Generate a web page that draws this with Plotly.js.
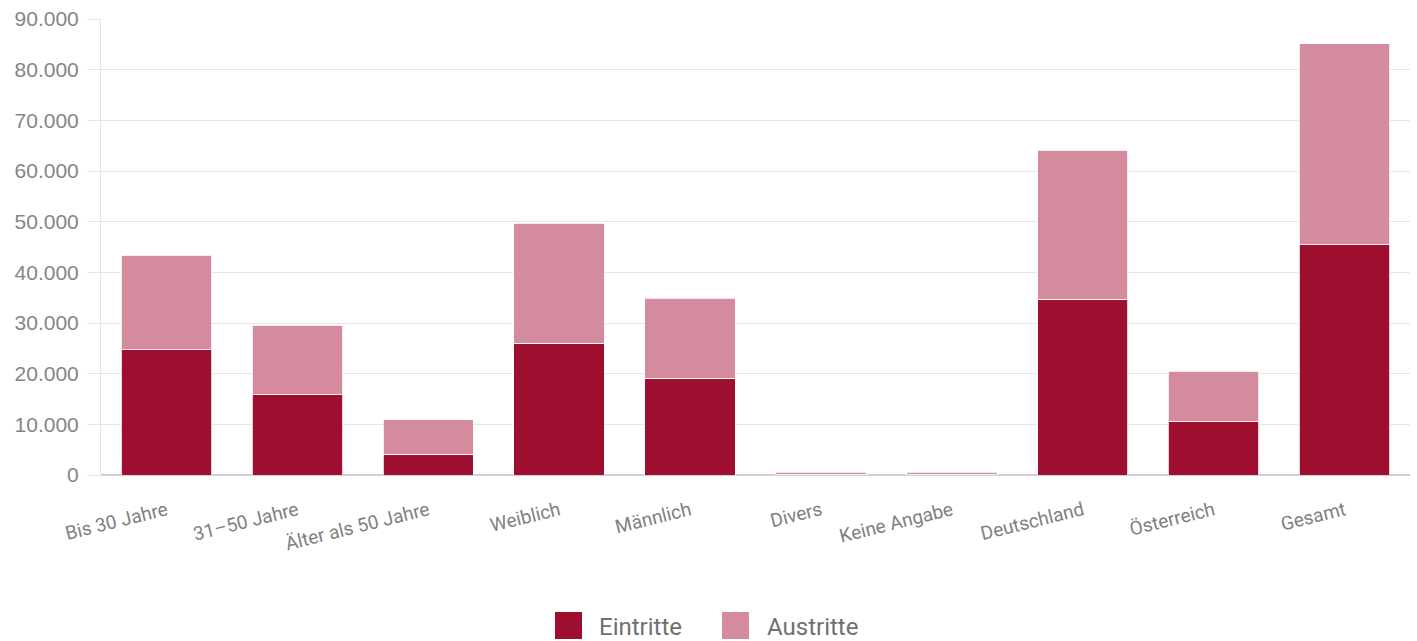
<!DOCTYPE html>
<html>
<head>
<meta charset="utf-8">
<script src="https://cdn.plot.ly/plotly-3.0.1.min.js"></script>
<style>html,body{margin:0;padding:0;background:#fff;}#chart{width:1417px;height:641px;}</style>
</head>
<body>
<div id="chart"></div>
<script>
const categories = ["Bis 30 Jahre", "31–50 Jahre", "Älter als 50 Jahre", "Weiblich", "Männlich", "Divers", "Keine Angabe", "Deutschland", "Österreich", "Gesamt"];
const eintritte = [24700, 15800, 4100, 26000, 19100, 100, 100, 34700, 10500, 45400];
const austritte = [18700, 13800, 6800, 23700, 15800, 400, 400, 29400, 10000, 39700];
const seriesNames = ["Eintritte", "Austritte"];
const yTickVals = [0, 10000, 20000, 30000, 40000, 50000, 60000, 70000, 80000, 90000];
const yTickText = ["0", "10.000", "20.000", "30.000", "40.000", "50.000", "60.000", "70.000", "80.000", "90.000"];

const colors = ["#9e0f2f", "#d58b9e"];
const W = 1417, H = 641;
const M = {l: 101, r: 7, t: 19, b: 166};
const pw = W - M.l - M.r, ph = H - M.t - M.b;
const px2x = p => (p - M.l) / pw;
const px2y = p => (H - M.b - p) / ph;

const traces = [
  {type: "bar", name: seriesNames[0], x: categories, y: eintritte, showlegend: false,
   marker: {color: colors[0], line: {color: "#ffffff", width: 0.8}}},
  {type: "bar", name: seriesNames[1], x: categories, y: austritte, showlegend: false,
   marker: {color: colors[1], line: {color: "#ffffff", width: 0.8}}}
];

// custom legend (large square swatches)
const legendItems = [{sx: 555, tx: 597}, {sx: 722, tx: 765}];
const shapes = [], annotations = [];
legendItems.forEach((it, i) => {
  shapes.push({type: "rect", xref: "paper", yref: "paper",
    x0: px2x(it.sx), x1: px2x(it.sx + 27), y0: px2y(639), y1: px2y(612),
    fillcolor: colors[i], line: {width: 0}});
  annotations.push({xref: "paper", yref: "paper", x: px2x(it.tx), y: px2y(627),
    xanchor: "left", yanchor: "middle", showarrow: false, text: seriesNames[i],
    font: {size: 24, color: "#707070", family: "Roboto, sans-serif"}});
});

const layout = {
  width: W, height: H,
  barmode: "stack", bargap: 0.31,
  margin: M,
  paper_bgcolor: "#fff", plot_bgcolor: "#fff",
  font: {family: "Liberation Sans, Arial, sans-serif", color: "#7a7a7a"},
  xaxis: {
    tickangle: -14, tickfont: {size: 19, family: "Roboto, sans-serif", color: "#808080"},
    showgrid: false, showline: false, ticks: "", zeroline: false, ticklabelstandoff: 20
  },
  yaxis: {
    range: [0, 90000], tickvals: yTickVals, ticktext: yTickText,
    tickfont: {size: 21, color: "#858585"},
    gridcolor: "#e6e6e6", gridwidth: 1, zeroline: true, zerolinecolor: "#d0d0d0", zerolinewidth: 1.5,
    showline: true, linecolor: "#e6e6e6", linewidth: 1, ticks: "outside", ticklen: 13, tickcolor: "#e6e6e6",
    ticklabelstandoff: 4
  },
  shapes: shapes, annotations: annotations,
  showlegend: false
};

Plotly.newPlot("chart", traces, layout, {displayModeBar: false, staticPlot: true});
</script>
</body>
</html>
